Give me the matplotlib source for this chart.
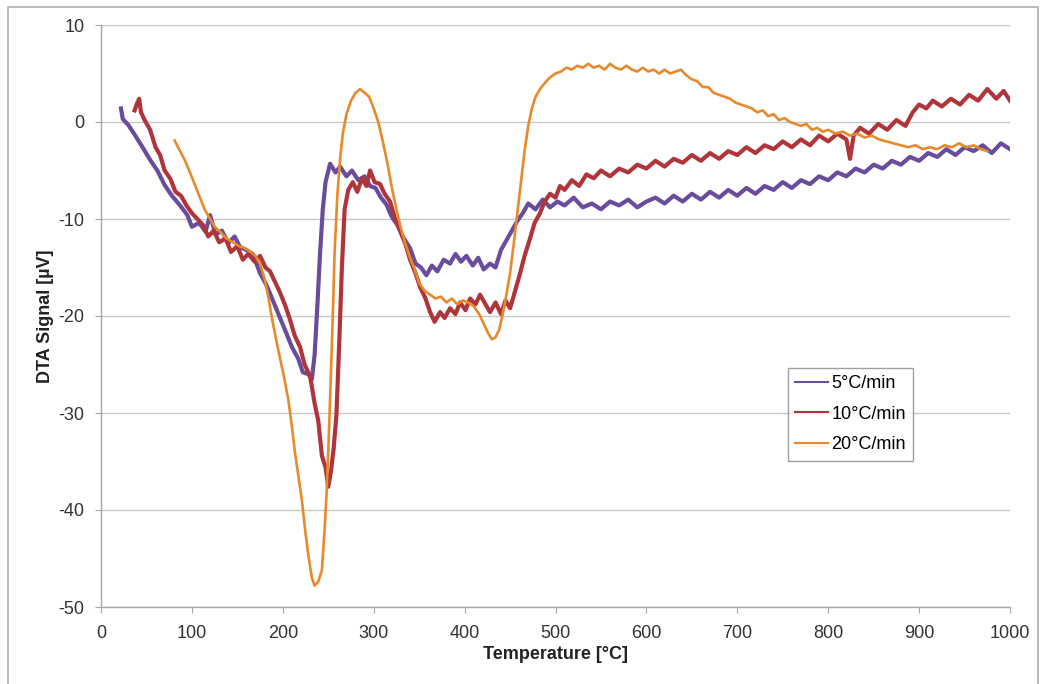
import matplotlib
matplotlib.use("Agg")
import matplotlib.pyplot as plt
from matplotlib.lines import Line2D

# 5 °C/min
t5 = [22, 24, 30, 37, 45, 54, 62, 70, 78, 87, 95, 100, 108, 115, 120, 126, 133, 140, 147, 153,
      160, 167, 175, 182, 190, 197, 204, 210, 217, 222, 228, 232, 235, 238, 241, 244, 247, 252, 258, 263,
      270, 276, 283, 290, 296, 302, 308, 314, 320, 326, 333, 340, 346, 352, 358, 364, 370, 377, 384, 390,
      396, 402, 409, 415, 421, 428, 434, 440, 446, 452, 458, 464, 470, 478, 486, 494, 502, 510, 520, 530,
      540, 550, 560, 570, 580, 590, 600, 610, 620, 630, 640, 650, 660, 670, 680, 690, 700, 710, 720, 730,
      740, 750, 760, 770, 780, 790, 800, 810, 820, 830, 840, 850, 860, 870, 880, 890, 900, 910, 920, 930,
      940, 950, 960, 970, 980, 990, 1000]
s5 = [1.4, 0.3, -0.3, -1.3, -2.5, -3.9, -5.0, -6.5, -7.6, -8.6, -9.6, -10.8, -10.4, -11.3, -9.6, -11.6, -11.2, -12.5, -11.8, -12.9,
      -13.2, -13.6, -15.6, -16.8, -18.6, -20.2, -21.8, -23.2, -24.4, -25.8, -26.0, -26.5, -24.0, -19.0, -13.5, -9.0, -6.2, -4.3, -5.2, -4.6,
      -5.6, -5.0, -6.0, -5.6, -6.6, -6.8, -7.8, -8.5, -9.8, -10.6, -12.0, -13.0, -14.6, -15.0, -15.8, -14.8, -15.4, -14.2, -14.6, -13.6,
      -14.4, -13.8, -14.8, -14.0, -15.2, -14.6, -15.0, -13.2, -12.2, -11.2, -10.2, -9.4, -8.4, -9.0, -8.0, -8.8, -8.2, -8.6, -7.8, -8.8,
      -8.4, -9.0, -8.2, -8.6, -8.0, -8.8, -8.2, -7.8, -8.4, -7.6, -8.2, -7.4, -8.0, -7.2, -7.8, -7.0, -7.6, -6.8, -7.4, -6.6,
      -7.0, -6.2, -6.8, -6.0, -6.4, -5.6, -6.0, -5.2, -5.6, -4.8, -5.2, -4.4, -4.8, -4.0, -4.4, -3.6, -4.0, -3.2, -3.6, -2.8,
      -3.4, -2.6, -3.0, -2.4, -3.2, -2.2, -2.8]

# 10 °C/min
t10 = [37, 40, 42, 44, 48, 54, 60, 65, 70, 76, 82, 88, 94, 100, 106, 112, 118, 124, 130, 137,
       143, 150, 156, 162, 169, 175, 181, 186, 192, 197, 203, 208, 213, 219, 224, 230, 235, 239, 243, 247,
       250, 253, 256, 259, 262, 265, 268, 272, 277, 282, 287, 292, 296, 301, 307, 312, 318, 323, 329, 335,
       340, 346, 351, 357, 362, 367, 373, 378, 384, 390, 395, 401, 406, 412, 417, 423, 428, 434, 440, 445,
       450, 455, 461, 466, 472, 477, 483, 488, 494, 500, 505, 510, 518, 526, 534, 542, 550, 560, 570, 580,
       590, 600, 610, 620, 630, 640, 650, 660, 670, 680, 690, 700, 710, 720, 730, 740, 750, 760, 770, 780,
       790, 800, 810, 820, 824, 828, 835, 845, 855, 865, 875, 885, 893, 900, 908, 915, 925, 935, 945, 955,
       965, 975, 985, 993, 1000]
s10 = [1.2, 2.0, 2.4, 1.0, 0.2, -0.8, -2.6, -3.4, -5.0, -5.8, -7.2, -7.6, -8.6, -9.4, -10.0, -10.6, -11.8, -11.2, -12.4, -12.0,
       -13.4, -12.8, -14.2, -13.6, -14.4, -13.8, -15.0, -15.4, -16.6, -17.6, -19.0, -20.4, -22.0, -23.2, -25.0, -26.2, -29.0, -30.8, -34.4, -35.6,
       -37.6, -36.0, -33.6, -30.2, -23.0, -15.0, -9.0, -7.0, -6.2, -7.2, -5.8, -6.6, -5.0, -6.2, -6.4, -7.4, -8.2, -9.8, -11.2, -12.6,
       -14.2, -15.6, -17.0, -18.2, -19.6, -20.6, -19.6, -20.2, -19.2, -19.8, -18.6, -19.4, -18.2, -18.8, -17.8, -18.8, -19.6, -18.6, -19.8, -18.4,
       -19.2, -17.6, -15.6, -13.8, -12.0, -10.4, -9.4, -8.2, -7.4, -7.8, -6.6, -7.0, -6.0, -6.6, -5.4, -5.8, -5.0, -5.6, -4.8, -5.2,
       -4.4, -4.8, -4.0, -4.6, -3.8, -4.2, -3.4, -4.0, -3.2, -3.8, -3.0, -3.4, -2.6, -3.2, -2.4, -2.8, -2.0, -2.6, -1.8, -2.4,
       -1.4, -2.0, -1.2, -1.8, -3.8, -1.4, -0.6, -1.2, -0.2, -0.8, 0.2, -0.4, 1.0, 1.8, 1.4, 2.2, 1.6, 2.4, 1.8, 2.8,
       2.2, 3.4, 2.4, 3.2, 2.2]

# 20 °C/min
t20 = [81, 86, 92, 97, 103, 108, 114, 120, 125, 132, 138, 145, 152, 158, 165, 170, 175, 180, 184, 188,
       193, 197, 202, 206, 210, 213, 217, 221, 225, 228, 232, 235, 239, 243, 246, 248, 250, 252, 255, 257,
       260, 263, 266, 270, 275, 280, 285, 290, 295, 300, 305, 310, 315, 320, 325, 330, 335, 340, 345, 350,
       356, 362, 368, 374, 380, 386, 392, 398, 404, 410, 416, 421, 426, 430, 434, 438, 442, 446, 450, 454,
       458, 462, 466, 470, 474, 478, 483, 488, 494, 500, 506, 512, 518, 524, 530, 536, 542, 548, 554, 560,
       566, 572, 578, 584, 590, 596, 602, 608, 614, 620, 626, 632, 638, 644, 650, 656, 662, 668, 674, 680,
       686, 692, 698, 704, 710, 716, 722, 728, 734, 740, 746, 752, 758, 764, 770, 776, 782, 788, 794, 800,
       808, 816, 824, 832, 840, 848, 856, 864, 872, 880, 888, 896, 904, 912, 920, 928, 936, 944, 952, 960,
       968, 975]
s20 = [-1.9, -2.8, -3.9, -5.0, -6.4, -7.6, -9.0, -10.0, -10.8, -11.4, -12.0, -12.4, -12.8, -13.0, -13.4, -13.8, -14.6, -16.2, -18.0, -20.2,
       -22.6, -24.4, -26.6, -28.6, -31.4, -33.8, -36.4, -39.0, -42.4, -44.6, -47.0, -47.8, -47.4, -46.2, -42.0, -38.6, -34.0, -28.6, -20.0, -13.4,
       -7.6, -3.8, -1.2, 0.8, 2.2, 3.0, 3.4, 3.0, 2.6, 1.4, 0.0, -2.0, -4.2, -6.8, -9.0, -11.0, -12.6, -14.0, -15.2, -16.6,
       -17.4, -17.8, -18.2, -18.0, -18.6, -18.2, -18.8, -18.4, -18.6, -19.0, -19.8, -20.8, -21.8, -22.4, -22.2, -21.4, -19.8, -17.8, -15.6, -12.6,
       -9.4, -6.2, -3.0, -0.4, 1.4, 2.6, 3.4, 4.0, 4.6, 5.0, 5.2, 5.6, 5.4, 5.8, 5.6, 6.0, 5.6, 5.8, 5.4, 6.0,
       5.6, 5.4, 5.8, 5.4, 5.2, 5.6, 5.2, 5.4, 5.0, 5.4, 5.0, 5.2, 5.4, 4.8, 4.4, 4.2, 3.6, 3.6, 3.0, 2.8,
       2.6, 2.4, 2.0, 1.8, 1.6, 1.4, 1.0, 1.2, 0.6, 0.8, 0.2, 0.4, 0.0, -0.2, -0.4, -0.2, -0.8, -0.6, -1.0, -0.8,
       -1.2, -1.0, -1.4, -1.2, -1.6, -1.4, -1.8, -2.0, -2.2, -2.4, -2.6, -2.4, -2.8, -2.6, -2.8, -2.4, -2.6, -2.2, -2.6, -2.4,
       -2.8, -3.0]

labels = ["5°C/min", "10°C/min", "20°C/min"]
colors = ["#6a4c9c", "#b0353a", "#e8892c"]
xticks = [0, 100, 200, 300, 400, 500, 600, 700, 800, 900, 1000]
yticks = [10, 0, -10, -20, -30, -40, -50]

plt.rcParams["font.family"] = ["Liberation Sans", "DejaVu Sans"]
plt.rcParams["axes.unicode_minus"] = False

fig = plt.figure(figsize=(10.4, 6.84), dpi=100)
ax = fig.add_axes([101 / 1040, 1 - 607 / 684, 909 / 1040, 582 / 684])

ax.plot(t5, s5, color=colors[0], linewidth=3.0, label=labels[0], zorder=3)
ax.plot(t10, s10, color=colors[1], linewidth=3.0, label=labels[1], zorder=4)
ax.plot(t20, s20, color=colors[2], linewidth=1.9, label=labels[2], zorder=5)

ax.set_xlim(0, 1000)
ax.set_ylim(-50, 10)
ax.set_xticks(xticks)
ax.set_yticks(yticks)
ax.grid(axis="y", color="#c8c8c8", linewidth=1.0)
ax.set_axisbelow(True)

for side in ["top", "right"]:
    ax.spines[side].set_visible(False)
for side in ["left", "bottom"]:
    ax.spines[side].set_color("#a8a8a8")
    ax.spines[side].set_linewidth(1.0)
ax.tick_params(colors="#a8a8a8", labelcolor="#333333", labelsize=13, length=4)
ax.tick_params(axis="x", pad=9)
ax.tick_params(axis="y", pad=8)

ax.set_xlabel("Temperature [°C]", fontsize=13, fontweight="bold", color="#222222", labelpad=3)
ax.set_ylabel("DTA Signal [µV]", fontsize=13, fontweight="bold", color="#222222", labelpad=3)

leg = ax.legend(loc="upper left", bbox_to_anchor=(687 / 909, 1 - (368 - 25) / 582),
                fontsize=13, frameon=True, fancybox=False, handlelength=1.8,
                handletextpad=0.2, borderpad=0.4, labelspacing=0.75, borderaxespad=0)
leg.get_frame().set_edgecolor("#888888")
leg.get_frame().set_linewidth(1.0)
for h in leg.get_lines():
    h.set_linewidth(1.5)

# outer chart border
fig.add_artist(Line2D([8 / 1040, 8 / 1040, 1038 / 1040, 1038 / 1040],
                      [-0.01, 1 - 7 / 684, 1 - 7 / 684, -0.01],
                      transform=fig.transFigure, color="#b0b0b0", linewidth=1.2))

fig.savefig("out.png", dpi=100)
